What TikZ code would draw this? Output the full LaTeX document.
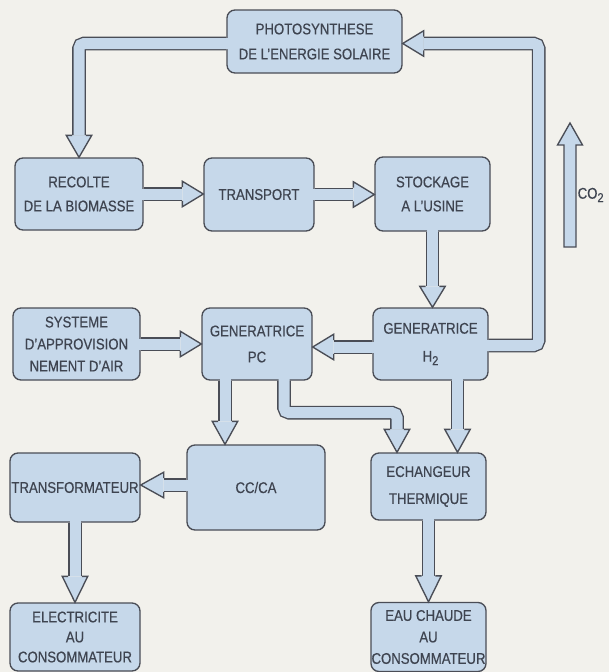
\documentclass[tikz,border=0pt]{standalone}
\usepackage{fontspec}
\setmainfont{Liberation Sans}[FakeStretch=0.85, FakeBold=0.5]
\usetikzlibrary{calc}

\definecolor{paper}{RGB}{242,241,236}
\definecolor{boxfill}{RGB}{198,216,234}
\definecolor{edge}{RGB}{74,77,86}
\definecolor{ink}{RGB}{62,68,80}

\tikzset{
  block/.style={draw=edge, fill=boxfill, line width=1.35pt, rounded corners=8pt,
    text=ink, align=center, inner sep=0pt, font=\fontsize{15.5}{24}\selectfont},
  shaftedge/.style={draw=edge, line width=13.7pt, line cap=butt},
  shaftfill/.style={draw=boxfill, line width=11pt, line cap=butt, shorten <=-1.7pt},
  headedge/.style={draw=edge, line width=1.35pt, line join=miter},
  label/.style={text=ink, inner sep=0pt, font=\fontsize{15.5}{18}\selectfont},
}

% lowered subscript two, as in H2 and CO2
\newcommand\subtwo{\raisebox{-3.5pt}{\fontsize{13}{12}\selectfont 2}}

% broad pipe: dark outline under a light core
\newcommand\shaft[1]{\draw[shaftedge] #1; \draw[shaftfill] #1;}

% broad arrow head from base point #1 to tip #2
\newcommand\fathead[2]{%
  \fill[boxfill] ($(#1)!6.8pt!90:(#2)$) -- ($(#1)!12.75pt!90:(#2)$) -- (#2)
    -- ($(#1)!12.75pt!-90:(#2)$) -- ($(#1)!6.8pt!-90:(#2)$) -- cycle;
  \draw[headedge] ($(#1)!6.85pt!90:(#2)$) -- ($(#1)!12.75pt!90:(#2)$) -- (#2)
    -- ($(#1)!12.75pt!-90:(#2)$) -- ($(#1)!6.85pt!-90:(#2)$);}

\begin{document}
\begin{tikzpicture}[x=1pt, y=-1pt]
  \useasboundingbox (0,0) rectangle (609,672);
  \fill[paper] (0,0) rectangle (609,672);

  % blocks
  \node[block, minimum width=175pt, minimum height=63pt, font=\fontsize{15.5}{25}\selectfont]
    (photo) at (314.5,41.5) {PHOTOSYNTHESE\\DE L'ENERGIE SOLAIRE};
  \node[block, minimum width=128pt, minimum height=72pt] (rec) at (79,194)
    {RECOLTE\\DE LA BIOMASSE};
  \node[block, minimum width=110pt, minimum height=73pt] (tra) at (259,194.5) {TRANSPORT};
  \node[block, minimum width=115pt, minimum height=74pt] (sto) at (432.5,194)
    {STOCKAGE\\A L'USINE};
  \node[block, minimum width=127pt, minimum height=72pt, font=\fontsize{15.5}{22}\selectfont]
    (sys) at (76.5,344) {SYSTEME\\D'APPROVISION\\NEMENT D'AIR};
  \node[block, minimum width=110pt, minimum height=72pt, font=\fontsize{15.5}{26}\selectfont]
    (pc) at (257,344) {GENERATRICE\\PC};
  \node[block, minimum width=115pt, minimum height=72pt, font=\fontsize{15.5}{28}\selectfont]
    (h2) at (430.5,344) {GENERATRICE\\H\subtwo};
  \node[block, minimum width=138pt, minimum height=85pt] (cc) at (256,487.5) {CC/CA};
  \node[block, minimum width=130pt, minimum height=69pt] (trf) at (75,487.5)
    {TRANSFORMATEUR};
  \node[block, minimum width=115pt, minimum height=67pt, font=\fontsize{15.5}{27}\selectfont]
    (ech) at (428.5,486.5) {ECHANGEUR\\THERMIQUE};
  \node[block, minimum width=130pt, minimum height=68pt, font=\fontsize{15.5}{20}\selectfont]
    (elec) at (75,637) {ELECTRICITE\\AU\\CONSOMMATEUR};
  \node[block, minimum width=115pt, minimum height=69pt, font=\fontsize{15.5}{21.5}\selectfont]
    (eau) at (428.5,637) {EAU CHAUDE\\AU\\CONSOMMATEUR};

  % photosynthese -> recolte
  \coordinate (a1s) at ($(photo.west)+(0,2)$);
  \coordinate (a1t) at (rec.north);
  \coordinate (a1b) at ($(a1t)+(0,-22)$);
  \shaft{[rounded corners=5pt] (a1s) -| (a1b)}
  \fathead{a1b}{a1t}

  % recolte -> transport
  \coordinate (a2t) at (rec.east -| tra.west);
  \coordinate (a2b) at ($(a2t)+(-21,0)$);
  \shaft{(rec.east) -- (a2b)}
  \fathead{a2b}{a2t}

  % transport -> stockage
  \coordinate (a3t) at (tra.east -| sto.west);
  \coordinate (a3b) at ($(a3t)+(-21,0)$);
  \shaft{(tra.east) -- (a3b)}
  \fathead{a3b}{a3t}

  % stockage -> generatrice H2
  \coordinate (a4t) at (sto.south |- h2.north);
  \coordinate (a4b) at ($(a4t)+(0,-21)$);
  \shaft{(sto.south) -- (a4b)}
  \fathead{a4b}{a4t}

  % generatrice H2 -> photosynthese (CO2 return loop)
  \coordinate (a5s) at ($(h2.east)+(0,1.5)$);
  \coordinate (a5c) at ($(a5s)+(50,0)$);
  \coordinate (a5t) at ($(photo.east)+(0,2)$);
  \coordinate (a5b) at ($(a5t)+(21,0)$);
  \shaft{[rounded corners=5pt] (a5s) -- (a5c) |- (a5b)}
  \fathead{a5b}{a5t}

  % air supply -> generatrice PC
  \coordinate (a6t) at (sys.east -| pc.west);
  \coordinate (a6b) at ($(a6t)+(-21,0)$);
  \shaft{(sys.east) -- (a6b)}
  \fathead{a6b}{a6t}

  % generatrice H2 -> generatrice PC
  \coordinate (a7s) at ($(h2.west)+(0,3)$);
  \coordinate (a7t) at (a7s -| pc.east);
  \coordinate (a7b) at ($(a7t)+(21,0)$);
  \shaft{(a7s) -- (a7b)}
  \fathead{a7b}{a7t}

  % generatrice PC -> CC/CA
  \coordinate (a8s) at ($(pc.south)+(-32,0)$);
  \coordinate (a8t) at (a8s |- cc.north);
  \coordinate (a8b) at ($(a8t)+(0,-23)$);
  \shaft{(a8s) -- (a8b)}
  \fathead{a8b}{a8t}

  % generatrice PC -> echangeur
  \coordinate (a9s) at ($(pc.south)+(27,0)$);
  \coordinate (a9c) at ($(a9s)+(0,32)$);
  \coordinate (a9t) at ($(ech.north)+(-31.5,0)$);
  \coordinate (a9b) at ($(a9t)+(0,-23)$);
  \shaft{[rounded corners=5pt] (a9s) -- (a9c) -| (a9b)}
  \fathead{a9b}{a9t}

  % generatrice H2 -> echangeur
  \coordinate (a10s) at ($(h2.south)+(27,0)$);
  \coordinate (a10t) at (a10s |- ech.north);
  \coordinate (a10b) at ($(a10t)+(0,-23)$);
  \shaft{(a10s) -- (a10b)}
  \fathead{a10b}{a10t}

  % CC/CA -> transformateur
  \coordinate (a11s) at ($(cc.west)+(0,-2.5)$);
  \coordinate (a11t) at (a11s -| trf.east);
  \coordinate (a11b) at ($(a11t)+(23,0)$);
  \shaft{(a11s) -- (a11b)}
  \fathead{a11b}{a11t}

  % transformateur -> electricite
  \coordinate (a12t) at (trf.south |- elec.north);
  \coordinate (a12b) at ($(a12t)+(0,-26)$);
  \shaft{(trf.south) -- (a12b)}
  \fathead{a12b}{a12t}

  % echangeur -> eau chaude
  \coordinate (a13t) at (ech.south |- eau.north);
  \coordinate (a13b) at ($(a13t)+(0,-26)$);
  \shaft{(ech.south) -- (a13b)}
  \fathead{a13b}{a13t}

  % free CO2 arrow with its label
  \coordinate (co2foot) at (570,247);
  \coordinate (co2tip) at (570,123);
  \filldraw[fill=boxfill, draw=edge, line width=1.35pt, line join=miter]
    ($(co2foot)+(-6,0)$) -- ($(co2tip)+(-6,22)$) -- ($(co2tip)+(-12.5,22)$)
    -- (co2tip) -- ($(co2tip)+(12.5,22)$) -- ($(co2tip)+(6,22)$)
    -- ($(co2foot)+(6,0)$) -- cycle;
  \node[label, anchor=west] (co2) at (577.5,195) {CO\subtwo};
\end{tikzpicture}
\end{document}
